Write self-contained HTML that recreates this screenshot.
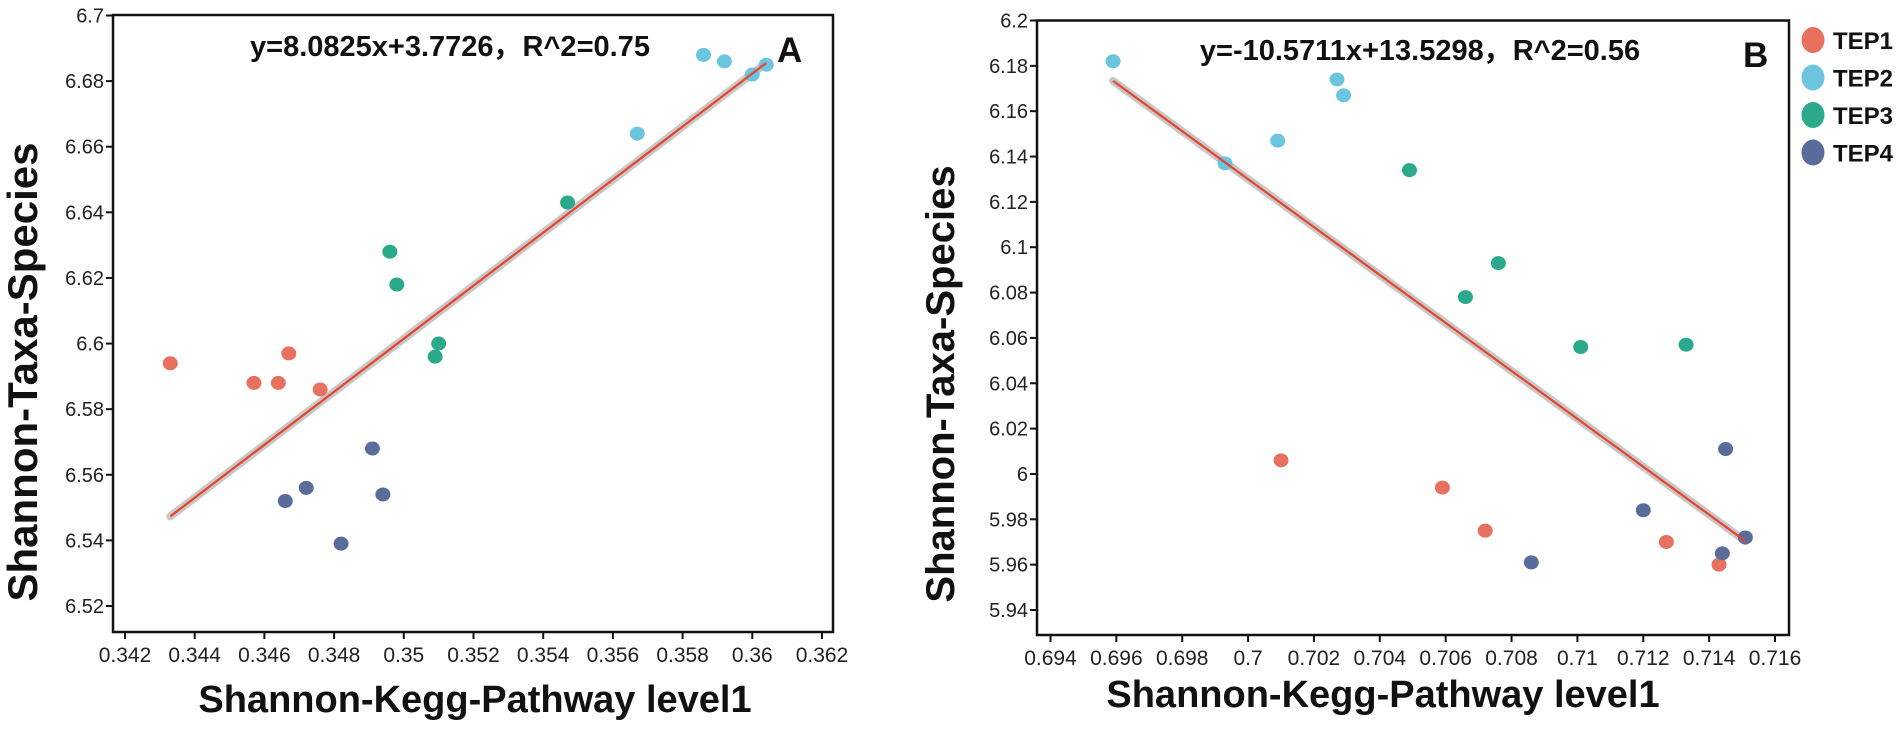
<!DOCTYPE html>
<html><head><meta charset="utf-8"><style>
html,body{margin:0;padding:0;background:#fff;}
svg{display:block;font-family:"Liberation Sans",Arial,sans-serif;}
</style></head><body>
<svg id="chart" width="1902" height="729" viewBox="0 0 1902 729"></svg>
<script>
const seriesNames = ["TEP1","TEP2","TEP3","TEP4"];
const seriesColors = ["#E8705E","#6CC5DE","#2AAA8A","#5A6C9A"];
const aX_TEP1=[0.3433,0.3457,0.3464,0.3467,0.3476];
const aY_TEP1=[6.594,6.588,6.588,6.597,6.586];
const aX_TEP2=[0.3567,0.3586,0.3592,0.3600,0.3604];
const aY_TEP2=[6.664,6.688,6.686,6.682,6.685];
const aX_TEP3=[0.3496,0.3498,0.3509,0.3510,0.3547];
const aY_TEP3=[6.628,6.618,6.596,6.600,6.643];
const aX_TEP4=[0.3466,0.3472,0.3482,0.3491,0.3494];
const aY_TEP4=[6.552,6.556,6.539,6.568,6.554];
const bX_TEP1=[0.7010,0.7059,0.7072,0.7127,0.7143];
const bY_TEP1=[6.006,5.994,5.975,5.970,5.960];
const bX_TEP2=[0.6959,0.6993,0.7009,0.7027,0.7029];
const bY_TEP2=[6.182,6.137,6.147,6.174,6.167];
const bX_TEP3=[0.7049,0.7066,0.7076,0.7101,0.7133];
const bY_TEP3=[6.134,6.078,6.093,6.056,6.057];
const bX_TEP4=[0.7086,0.7120,0.7144,0.7145,0.7151];
const bY_TEP4=[5.961,5.984,5.965,6.011,5.972];
const aXTicks=["0.342","0.344","0.346","0.348","0.35","0.352","0.354","0.356","0.358","0.36","0.362"];
const aYTicks=["6.52","6.54","6.56","6.58","6.6","6.62","6.64","6.66","6.68","6.7"];
const bXTicks=["0.694","0.696","0.698","0.7","0.702","0.704","0.706","0.708","0.71","0.712","0.714","0.716"];
const bYTicks=["5.94","5.96","5.98","6","6.02","6.04","6.06","6.08","6.1","6.12","6.14","6.16","6.18","6.2"];
const aFit=[8.0825,3.7726]; const aFitRange=[0.3433,0.3604];
const bFit=[-10.5711,13.5298]; const bFitRange=[0.6959,0.7151];

const svg=document.getElementById('chart');
const NS='http://www.w3.org/2000/svg';
function mk(tag,attrs,parent){const e=document.createElementNS(NS,tag);for(const k in attrs)e.setAttribute(k,attrs[k]);(parent||svg).appendChild(e);return e;}

function panel(cfg){
  const g=mk('g',{});
  
  
  const sx=v=>cfg.x0px+(v-cfg.x0)/(cfg.x1-cfg.x0)*(cfg.x1px-cfg.x0px);
  const sy=v=>cfg.y0px-(v-cfg.y0)/(cfg.y1-cfg.y0)*(cfg.y0px-cfg.y1px);
  const f=mk('rect',{x:cfg.L,y:cfg.T,width:cfg.R-cfg.L,height:cfg.B-cfg.T,fill:'none',stroke:'#111','stroke-width':2.5},g);
  
  
  cfg.xt.forEach(t=>{const x=sx(parseFloat(t));
    mk('line',{x1:x,x2:x,y1:cfg.B,y2:cfg.B+7,stroke:'#111','stroke-width':2},g);
    const tx=mk('text',{x:x,y:cfg.B+30,'font-size':21,'text-anchor':'middle',fill:'#222'},g);tx.textContent=t;
    
    });
  cfg.yt.forEach(t=>{const y=sy(parseFloat(t));
    mk('line',{x1:cfg.L-7,x2:cfg.L,y1:y,y2:y,stroke:'#111','stroke-width':2},g);
    const tx=mk('text',{x:cfg.L-9,y:y+7,'font-size':20,'text-anchor':'end',fill:'#222'},g);tx.textContent=t;
    
    });
  const xa=cfg.fr[0],xb=cfg.fr[1];
  const ya=cfg.fit[0]*xa+cfg.fit[1],yb=cfg.fit[0]*xb+cfg.fit[1];
  const band=mk('line',{x1:sx(xa),y1:sy(ya),x2:sx(xb),y2:sy(yb),stroke:'#c8c8c8','stroke-width':8,'stroke-linecap':'round'},g);
  
  
  cfg.series.forEach((s,i)=>{s[0].forEach((xv,j)=>{
    const c=mk('ellipse',{cx:sx(xv),cy:sy(s[1][j]),rx:7.5,ry:7,fill:seriesColors[i]},g);
    
    });});
  const ln=mk('line',{x1:sx(xa),y1:sy(ya),x2:sx(xb),y2:sy(yb),stroke:'#E8432E','stroke-width':2.2},g);
  
  
  const eq=mk('text',{x:cfg.eqx,y:cfg.eqy,'font-size':29,'font-weight':'bold','text-anchor':'middle',fill:'#111'},g);eq.textContent=cfg.eq;
  
  
  const lb=mk('text',{x:cfg.lbx,y:cfg.lby,'font-size':35,'font-weight':'bold',fill:'#111'},g);lb.textContent=cfg.lab;
  
  
  const xt=mk('text',{x:cfg.xtx,y:cfg.xty,'font-size':38,'font-weight':'bold','text-anchor':'middle',fill:'#111'},g);xt.textContent='Shannon-Kegg-Pathway level1';
  
  
  const cy=cfg.ytc;
  const yt=mk('text',{x:cfg.ytx,y:cy,'font-size':cfg.yfs,'font-weight':'bold','text-anchor':'middle',fill:'#111',transform:'rotate(-90 '+cfg.ytx+' '+cy+')'},g);yt.textContent='Shannon-Taxa-Species';
  
  
}
panel({id:'a',L:113,R:833,T:15,B:632,x0:0.342,x1:0.362,x0px:125,x1px:822,y0:6.52,y1:6.7,y0px:606,y1px:15.5,
  xt:aXTicks,yt:aYTicks,fit:aFit,fr:aFitRange,eq:'y=8.0825x+3.7726，R^2=0.75',eqx:450,eqy:56,lab:'A',lbx:777,lby:62,
  xtx:475,xty:712,ytx:37,ytc:372,yfs:42,
  series:[[aX_TEP1,aY_TEP1],[aX_TEP2,aY_TEP2],[aX_TEP3,aY_TEP3],[aX_TEP4,aY_TEP4]]});
panel({id:'b',L:1037,R:1789,T:20.5,B:635,x0:0.694,x1:0.716,x0px:1050.5,x1px:1775,y0:5.94,y1:6.2,y0px:610,y1px:20.5,
  xt:bXTicks,yt:bYTicks,fit:bFit,fr:bFitRange,eq:'y=-10.5711x+13.5298，R^2=0.56',eqx:1420,eqy:60,lab:'B',lbx:1743,lby:67,
  xtx:1383,xty:707,ytx:954,ytc:384,yfs:40,
  series:[[bX_TEP1,bY_TEP1],[bX_TEP2,bY_TEP2],[bX_TEP3,bY_TEP3],[bX_TEP4,bY_TEP4]]});
const lg=mk('g',{});


seriesNames.forEach((n,i)=>{const y=40+i*37.5;
  const c=mk('ellipse',{cx:1813,cy:y,rx:11.5,ry:13,fill:seriesColors[i]},lg);
  
  
  const t=mk('text',{x:1833,y:y+9,'font-size':24,'font-weight':'bold',fill:'#111'},lg);t.textContent=n;
  
  });
</script>
</body></html>
